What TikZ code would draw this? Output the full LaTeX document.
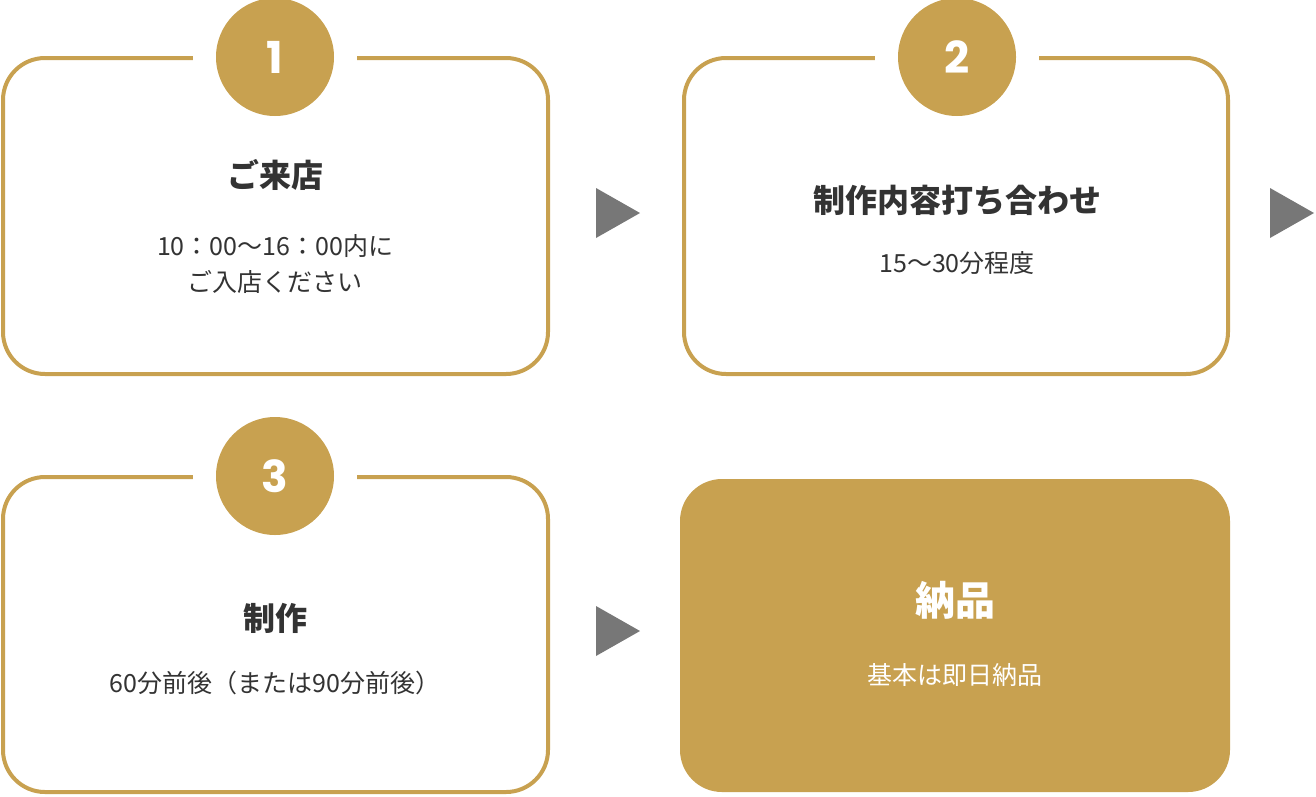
\documentclass[tikz,border=0pt]{standalone}
\usepackage{fontspec}
\setmainfont{Noto Sans CJK JP}
\newfontfamily\numfont{Poppins}
\definecolor{gold}{HTML}{C8A150}
\definecolor{txt}{HTML}{333333}
\definecolor{arr}{HTML}{777777}
\tikzset{
 card/.style={draw=gold,line width=4pt,rounded corners=42pt},
 gapcover/.style={fill=white,draw=none},
 badge/.style={circle,fill=gold,minimum size=118pt,inner sep=0pt,text=white,font=\numfont\fontsize{44}{50}\selectfont\bfseries},
 ttl/.style={text=txt,font=\fontsize{32}{38}\selectfont\bfseries},
 sub/.style={text=txt,font=\fontsize{25}{36}\selectfont,align=center},
 tri/.style={fill=arr,draw=none}
}
\begin{document}
\begin{tikzpicture}[x=1pt,y=-1pt]
\useasboundingbox (0,0) rectangle (1316,796);
% card 1
\draw[card] (3,58) rectangle (548,374);
\fill[gapcover] (193,50) rectangle (357,66);
\node[badge] (b1) at (275,57) {1};
\node[ttl] (t1) at (275,175) {ご来店};
\node[sub] (s1) at (275,264) {10：00〜16：00内に\\ご入店ください};
% card 2
\draw[card] (684,58) rectangle (1228,374);
\fill[gapcover] (875,50) rectangle (1039,66);
\node[badge] (b2) at (957,57) {2};
\node[ttl] (t2) at (957,200) {制作内容打ち合わせ};
\node[sub] (s2) at (957,263) {15〜30分程度};
% card 3
\draw[card] (3,477) rectangle (548,792);
\fill[gapcover] (193,469) rectangle (357,485);
\node[badge] (b3) at (275,476) {3};
\node[ttl] (t3) at (275,618) {制作};
\node[sub] (s3) at (275,683) {60分前後（または90分前後）};
% card 4
\fill[gold,rounded corners=42pt] (680,479) rectangle (1230,792);
\node[ttl,text=white,font=\fontsize{40}{46}\selectfont\bfseries] (t4) at (955,600) {納品};
\node[sub,text=white] (s4) at (955,675) {基本は即日納品};
% arrows
\fill[tri] (596,188) -- (640,213) -- (596,238) -- cycle;
\fill[tri] (1270,188) -- (1314,213) -- (1270,238) -- cycle;
\fill[tri] (596,606) -- (640,631) -- (596,656) -- cycle;
\end{tikzpicture}
\end{document}
